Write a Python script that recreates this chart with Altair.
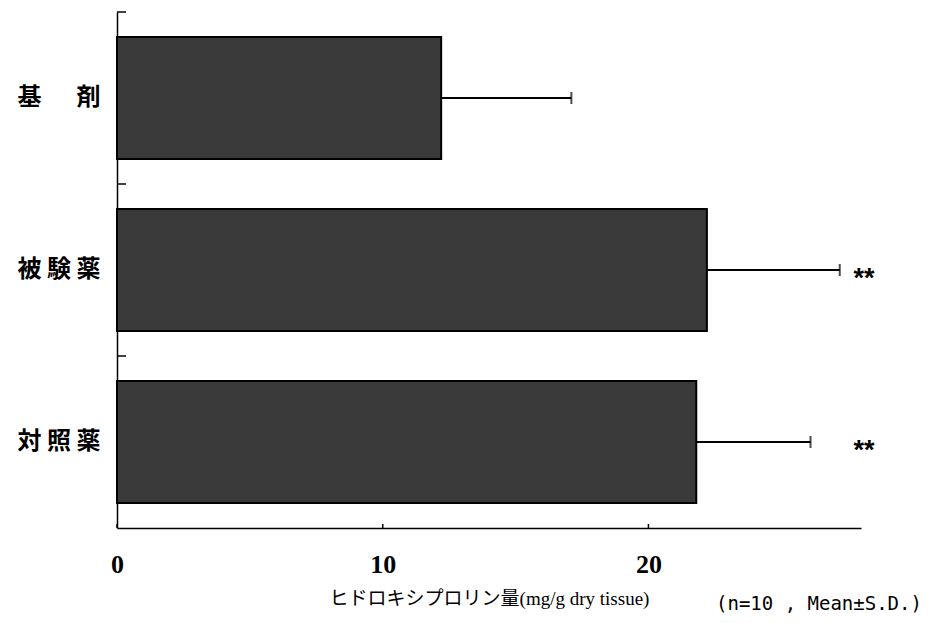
import altair as alt
import pandas as pd

# ---- data ----
categories = ["基 　 剤", "被 験 薬", "対 照 薬"]
means = [12.2, 22.2, 21.8]
sds = [4.9, 5.0, 4.3]
marks = ["", "**", "**"]
x_ticks = [0, 10, 20]
x_title = "ヒドロキシプロリン量(mg/g dry tissue)"
note = "(n=10 , Mean±S.D.)"

df = pd.DataFrame({"cat": categories, "mean": means, "sd": sds, "sig": marks})
df["hi"] = df["mean"] + df["sd"]

y_enc = alt.Y(
    "cat:N",
    sort=categories,
    scale=alt.Scale(paddingInner=0, paddingOuter=0),
    axis=alt.Axis(
        title=None,
        ticks=False,
        tickSize=0,
        labelPadding=17,
        labelFont="Noto Sans CJK JP",
        labelFontWeight="bold",
        labelFontSize=24,
        labelColor="black",
        domainColor="black",
        domainWidth=1.5,
        grid=False,
    ),
)

x_scale = alt.Scale(domain=[0, 28], nice=False, zero=True)

bars = alt.Chart(df).mark_bar(
    height=alt.RelativeBandSize(0.71),
    color="#3a3a3a",
    stroke="black",
    strokeWidth=2,
).encode(
    x=alt.X(
        "mean:Q",
        scale=x_scale,
        axis=alt.Axis(
            values=x_ticks,
            title=x_title,
            ticks=False,
            tickSize=0,
            grid=False,
            labelFlush=False,
            labelPadding=23,
            labelFont="Liberation Serif",
            labelFontWeight="bold",
            labelFontSize=26,
            labelColor="black",
            domainColor="black",
            domainWidth=1.5,
            titleFont="Liberation Serif, Noto Sans CJK JP",
            titleFontWeight="normal",
            titleFontSize=19,
            titleColor="black",
            titlePadding=12,
        ),
    ),
    y=y_enc,
)

err = alt.Chart(df).mark_rule(color="black", strokeWidth=2).encode(
    x=alt.X("mean:Q", scale=x_scale),
    x2="hi:Q",
    y=alt.Y("cat:N", sort=categories),
)

cap = alt.Chart(df).mark_tick(color="black", thickness=2, size=12).encode(
    x=alt.X("hi:Q", scale=x_scale),
    y=alt.Y("cat:N", sort=categories),
)

stars = alt.Chart(df).mark_text(
    font="Liberation Sans", fontWeight="bold", fontSize=27, color="black",
    align="center", baseline="middle", dy=9,
).encode(
    x=alt.value(747),
    y=alt.Y("cat:N", sort=categories),
    text="sig:N",
)

yticks = alt.Chart(df).mark_rule(color="black", strokeWidth=1.5).encode(
    x=alt.value(0),
    x2=alt.value(9),
    y=alt.Y("cat:N", sort=categories, bandPosition=0),
)

xt = pd.DataFrame({"v": x_ticks})
xticks = alt.Chart(xt).mark_rule(color="black", strokeWidth=1.5).encode(
    x=alt.X("v:Q", scale=x_scale),
    y=alt.value(516),
    y2=alt.value(512),
)

note_chart = alt.Chart(pd.DataFrame({"t": [note]})).mark_text(
    font="DejaVu Sans Mono", fontSize=19, color="black",
    align="left", baseline="middle",
).encode(
    x=alt.value(599),
    y=alt.value(592),
    text="t:N",
)

chart = alt.layer(bars, err, cap, stars, yticks, xticks, note_chart).properties(
    width=744,
    height=516,
    autosize=alt.AutoSizeParams(type="none"),
    padding={"left": 109, "top": 4, "right": 67, "bottom": 87},
    background="white",
).configure_view(stroke=None)

chart.save("out.html", embed_options={"renderer": "svg", "actions": False})
